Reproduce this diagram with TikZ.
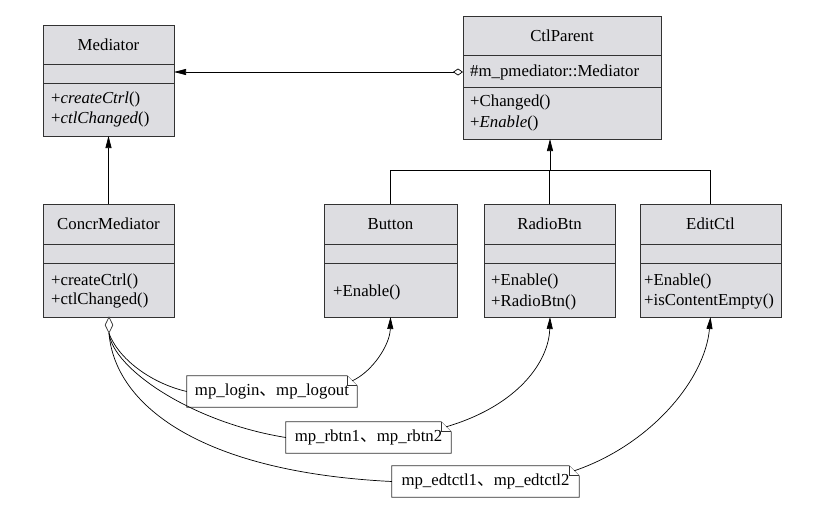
\documentclass[tikz,border=0pt]{standalone}
\usepackage{fontspec}
\setmainfont{Liberation Serif}
\newfontfamily\cjk{Noto Sans CJK SC}
\usetikzlibrary{arrows.meta,shapes.geometric}
\definecolor{boxgray}{RGB}{221,221,225}
\definecolor{edge}{RGB}{50,50,50}
\newcommand\umlcls[7]{%
  \node[classbox, minimum width={#4-#2}, minimum height={#5-#3}, anchor=north west] (#1) at (#2,#3) {};
  \draw[classline] (#2,#6) -- (#4,#6);
  \draw[classline] (#2,#7) -- (#4,#7);}
\newcommand\umlnote[1]{%
  \draw[noteline] (#1.north west) -- ([xshift=-10pt]#1.north east) -- ([yshift=-10pt]#1.north east) -- (#1.south east) -- (#1.south west) -- cycle;
  \draw[noteline] ([xshift=-10pt]#1.north east) -- ([xshift=-10pt,yshift=-10pt]#1.north east) -- ([yshift=-10pt]#1.north east);}
\begin{document}
\begin{tikzpicture}[x=1pt,y=-1pt,
  classbox/.style={draw=edge, fill=boxgray, line width=0.8pt, inner sep=0pt, outer sep=0pt},
  classline/.style={draw=edge, line width=0.8pt},
  txt/.style={inner sep=0pt, font=\fontsize{16.8}{20}\selectfont, text=black},
  notebox/.style={inner sep=0pt, minimum height=31pt},
  noteline/.style={draw=edge, fill=white, line width=0.8pt},
  conn/.style={draw=black, line width=0.7pt},
  tri/.style={-{Triangle[length=12pt,width=6pt]}},
  ]
\fill[white] (0,0) rectangle (814,506);
\useasboundingbox (0,0) rectangle (814,506);

% classes
\umlcls{med}{43}{25}{174}{136}{64}{83}
\node[txt] (medt) at (108.5,44.5) {Mediator};
\node[txt, anchor=west] (medm1) at (51,99) {+\textit{createCtrl}()};
\node[txt, anchor=west] (medm2) at (51,119) {+\textit{ctlChanged}()};

\umlcls{ctl}{463}{16}{661}{139}{55}{87}
\node[txt] (ctlt) at (562,35.5) {CtlParent};
\node[txt, anchor=west] (ctla) at (470,72) {\#m\_pmediator::Mediator};
\node[txt, anchor=west] (ctlm1) at (470,102) {+Changed()};
\node[txt, anchor=west] (ctlm2) at (470,123) {+\textit{Enable}()};

\umlcls{conc}{43}{204}{174}{317}{244}{263}
\node[txt] (conct) at (108.5,224) {ConcrMediator};
\node[txt, anchor=west] (concm1) at (51,281) {+createCtrl()};
\node[txt, anchor=west] (concm2) at (51,300) {+ctlChanged()};

\umlcls{btn}{324}{204}{457}{317}{244}{263}
\node[txt] (btnt) at (390.5,224) {Button};
\node[txt, anchor=west] (btnm1) at (333,292) {+Enable()};

\umlcls{rad}{484}{204}{615}{317}{244}{263}
\node[txt] (radt) at (549.5,224) {RadioBtn};
\node[txt, anchor=west] (radm1) at (491,281) {+Enable()};
\node[txt, anchor=west] (radm2) at (491,302) {+RadioBtn()};

\umlcls{edt}{640}{204}{781}{317}{244}{263}
\node[txt] (edtt) at (710.5,224) {EditCtl};
\node[txt, anchor=west] (edtm1) at (644,281) {+Enable()};
\node[txt, anchor=west] (edtm2) at (644,301) {+isContentEmpty()};

% association CtlParent -> Mediator
\draw[conn, {Diamond[open,length=10pt,width=7pt]}-{Triangle[length=12pt,width=6pt]}]
  (ctl.west |- ctla.west) -- (med.east |- ctla.west);

% inheritance
\draw[conn, tri] (conc.north) -- (med.south);
\coordinate (junc) at (550,170);
\draw[conn, tri] (junc) -- (junc |- ctl.south);
\draw[conn] (btn.north) |- (edt.north |- junc) -- (edt.north);
\draw[conn] (rad.north) -- (rad.north |- junc);

% notes
\node[notebox, minimum width=170pt] (n1) at (272,391.5) {};
\umlnote{n1}
\node[txt] (n1t) at (n1.center) {mp\_login{\cjk 、}mp\_logout};
\node[notebox, minimum width=165pt] (n2) at (368.5,437.5) {};
\umlnote{n2}
\node[txt] (n2t) at (n2.center) {mp\_rbtn1{\cjk 、}mp\_rbtn2};
\node[notebox, minimum width=187pt] (n3) at (485.5,481.5) {};
\umlnote{n3}
\node[txt] (n3t) at (n3.center) {mp\_edtctl1{\cjk 、}mp\_edtctl2};

% aggregation diamond at ConcrMediator
\node[diamond, draw=edge, fill=white, line width=0.7pt, minimum width=8pt, minimum height=16pt, inner sep=0pt] (dia) at (109,325) {};

\draw[conn] (dia.south) .. controls (118,358) and (150,383) .. (n1.west);
\draw[conn] (dia.south) .. controls (113,368) and (190,422) .. (n2.west);
\draw[conn] (dia.south) .. controls (115,405) and (200,472) .. (n3.west);

\draw[conn, tri] ([xshift=-5pt,yshift=-5pt]n1.north east) .. controls (372,372) and (390,345) .. (btn.south);
\draw[conn, tri] ([xshift=-5pt,yshift=-5pt]n2.north east) .. controls (520,405) and (549,360) .. (rad.south -| junc);
\draw[conn, tri] ([xshift=-5pt,yshift=-5pt]n3.north east) .. controls (650,445) and (705,380) .. (edt.south);
\end{tikzpicture}
\end{document}
